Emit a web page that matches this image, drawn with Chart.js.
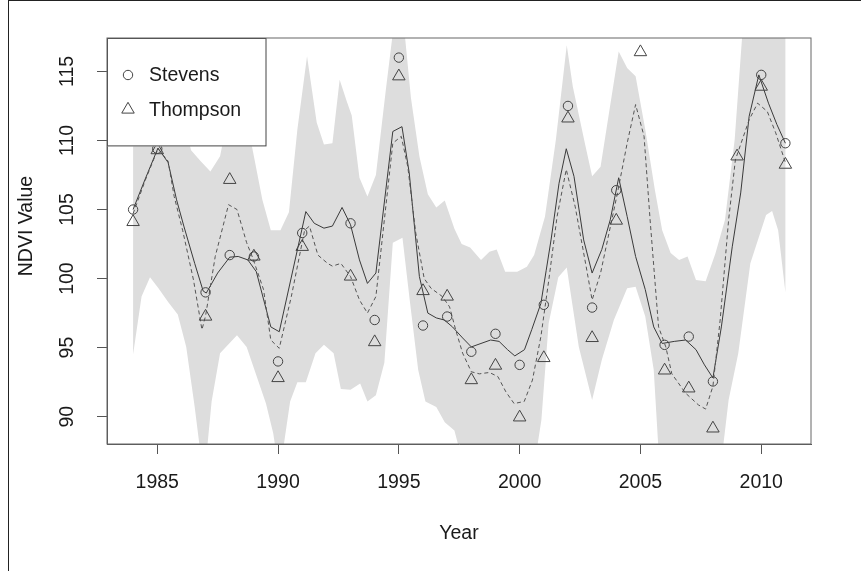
<!DOCTYPE html>
<html lang="en">
<head>
<meta charset="UTF-8">
<title>NDVI Value by Year</title>
<script src="https://cdn.jsdelivr.net/npm/chart.js"></script>
<style>
    body { margin: 0; background: #fff; }
    #wrap { position: relative; width: 861px; height: 571px; }
    #frame { position: absolute; left: 8px; top: 0; right: 0; bottom: 0; border-left: 1px solid #222; border-top: 1px solid #222; pointer-events: none; }
</style>
</head>
<body>
<div id="wrap">
    <canvas id="myChart"></canvas>
    <div id="frame"></div>
</div>
<script>
    // yearly observations
    const years = [1984, 1985, 1986, 1987, 1988, 1989, 1990, 1991, 1992, 1993, 1994, 1995, 1996, 1997,
                   1998, 1999, 2000, 2001, 2002, 2003, 2004, 2005, 2006, 2007, 2008, 2009, 2010, 2011];
    const stevens = [105.0, 109.4, null, 99.0, 101.7, 101.6, 94.0, 103.3, null, 104.0, 97.0, 116.0, 96.6, 97.25,
                     94.7, 96.0, 93.75, 98.1, 112.5, 97.9, 106.4, null, 95.2, 95.8, 92.55, null, 114.75, 109.8];
    const thompson = [104.1, 109.3, null, 97.25, 107.15, 101.6, 92.8, 102.3, null, 100.15, 95.4, 114.65, 99.1, 98.7,
                      92.65, 93.7, 89.95, 94.25, 111.6, 95.7, 104.2, 116.4, 93.35, 92.05, 89.15, 108.85, 113.9, 108.25];

    // smoothed Stevens (solid)
    const solidX = [1984.0, 1984.5, 1985.03, 1985.45, 1985.8, 1986.1, 1986.55, 1986.9, 1987.03, 1987.5, 1988.0, 1988.35,
                    1988.75, 1989.1, 1989.7, 1990.05, 1991.15, 1991.5, 1991.9, 1992.25, 1992.65, 1993.0, 1993.37, 1993.7,
                    1994.05, 1994.75, 1995.13, 1995.43, 1995.85, 1996.2, 1996.55, 1996.88, 1997.22, 1997.64, 1998.0,
                    1998.4, 1998.8, 1999.15, 1999.5, 1999.8, 2000.2, 2000.5, 2000.88, 2001.1, 2001.3, 2001.63, 2001.93,
                    2002.25, 2002.65, 2003.0, 2003.4, 2003.75, 2004.1, 2004.45, 2004.8, 2005.2, 2005.55, 2005.9, 2006.4,
                    2006.87, 2007.3, 2007.65, 2008.0, 2008.35, 2008.8, 2009.15, 2009.5, 2009.9, 2010.3, 2010.65, 2011.0];
    const solidY = [105.0, 107.2, 109.45, 108.4, 105.7, 103.8, 101.1, 99.1, 98.95, 100.4, 101.55, 101.6,
                    101.35, 100.5, 96.5, 96.15, 104.85, 104.0, 103.65, 103.8, 105.15, 103.9, 101.35, 99.65,
                    100.4, 110.65, 111.0, 107.65, 100.15, 97.5, 97.15, 97.0, 96.5, 95.7, 95.05,
                    95.3, 95.55, 95.45, 94.85, 94.4, 94.85, 96.3, 98.2, 100.6, 102.8, 106.9, 109.4,
                    107.4, 102.8, 100.4, 102.1, 104.25, 107.3, 104.5, 101.6, 99.2, 96.5, 95.3, 95.45,
                    95.55, 94.85, 93.75, 92.8, 96.5, 102.3, 106.2, 111.75, 114.75, 112.7, 111.15, 109.8];

    // smoothed Thompson (dashed)
    const dashX = [1984.0, 1984.5, 1985.03, 1985.45, 1985.7, 1986.05, 1986.5, 1986.85, 1987.0, 1987.4, 1987.95, 1988.3,
                   1988.7, 1988.95, 1989.4, 1989.7, 1990.05, 1990.55, 1991.1, 1991.3, 1991.65, 1992.05, 1992.25, 1992.6,
                   1993.0, 1993.37, 1993.7, 1994.05, 1994.75, 1995.1, 1995.37, 1995.7, 1996.05, 1996.33, 1996.8, 1997.1,
                   1997.35, 1997.64, 1998.0, 1998.33, 1998.75, 1999.1, 1999.43, 1999.77, 2000.19, 2000.53, 2000.88,
                   2001.2, 2001.55, 2001.93, 2002.3, 2002.75, 2003.0, 2003.35, 2003.7, 2004.05, 2004.45, 2004.8,
                   2005.15, 2005.4, 2005.75, 2006.05, 2006.3, 2006.87, 2007.4, 2007.7, 2008.0, 2008.3, 2008.65,
                   2008.93, 2009.5, 2009.85, 2010.25, 2010.6, 2011.0];
    const dashY = [104.7, 107.1, 109.4, 108.5, 105.95, 103.5, 99.9, 96.3, 97.3, 101.6, 105.35, 105.0,
                   102.6, 101.5, 99.2, 95.55, 94.95, 98.7, 103.5, 103.8, 101.7, 101.1, 100.9, 101.1,
                   100.15, 98.45, 97.5, 98.7, 109.8, 110.3, 108.1, 103.3, 100.0, 99.3, 98.7, 97.95,
                   96.3, 94.6, 93.25, 93.1, 93.2, 92.9, 91.8, 90.95, 91.1, 92.65, 95.8,
                   99.8, 104.5, 107.9, 105.2, 100.9, 98.45, 100.4, 103.3, 106.2, 109.8, 112.6,
                   110.3, 104.25, 96.5, 95.05, 93.1, 91.7, 90.85, 90.55, 92.2, 97.0, 104.25,
                   108.6, 111.5, 112.7, 112.1, 110.55, 108.4];

    // grey band, upper and lower edges
    const bandUpX = [1984.0, 1984.5, 1985.0, 1985.5, 1986.0, 1986.4, 1986.8, 1987.2, 1987.6, 1987.9, 1988.3, 1988.7,
                     1989.0, 1989.35, 1989.7, 1990.1, 1990.45, 1990.8, 1991.2, 1991.6, 1991.9, 1992.25, 1992.55,
                     1992.85, 1993.05, 1993.37, 1993.7, 1994.05, 1994.45, 1994.8, 1995.2, 1995.5, 1995.85, 1996.2,
                     1996.55, 1996.9, 1997.3, 1997.6, 1997.95, 1998.4, 1998.75, 1999.05, 1999.4, 1999.9, 2000.3,
                     2000.6, 2001.05, 2001.5, 2001.95, 2002.2, 2002.7, 2003.0, 2003.35, 2003.7, 2004.1, 2004.45,
                     2004.8, 2005.2, 2005.6, 2005.9, 2006.25, 2006.6, 2006.95, 2007.3, 2007.7, 2008.1, 2008.5,
                     2008.9, 2009.25, 2010.0, 2011.0];
    const bandUpY = [113.0, 117.0, 118.0, 116.0, 112.0, 109.3, 108.5, 107.75, 108.85, 111.5, 112.5, 111.5,
                     108.85, 105.7, 103.5, 103.5, 104.8, 110.8, 116.1, 111.3, 109.7, 109.8, 114.4,
                     112.8, 111.8, 107.3, 105.95, 107.5, 113.5, 118.5, 118.5, 113.1, 108.85, 106.1,
                     105.15, 105.65, 103.6, 102.5, 102.25, 101.35, 101.95, 102.1, 100.5, 100.5, 100.85,
                     101.7, 104.5, 110.05, 116.9, 113.9, 109.8, 107.4, 108.1, 112.0, 116.45, 115.25,
                     114.65, 110.8, 106.4, 103.5, 101.85, 101.35, 101.6, 99.9, 99.8, 101.8, 104.25,
                     110.05, 118.5, 119.0, 119.0];
    const bandLowX = [1984.0, 1984.35, 1984.7, 1985.05, 1985.45, 1985.85, 1986.2, 1986.55, 1986.85, 1987.0, 1987.25,
                      1987.6, 1988.3, 1988.7, 1989.1, 1989.5, 1989.8, 1990.0, 1990.2, 1990.5, 1990.8, 1991.15,
                      1991.55, 1991.9, 1992.3, 1992.6, 1993.0, 1993.4, 1993.7, 1994.05, 1994.4, 1994.75, 1995.15,
                      1995.45, 1995.8, 1996.1, 1996.55, 1996.9, 1997.3, 1997.6, 1998.0, 2000.0, 2000.7, 2000.9,
                      2001.2, 2001.6, 2001.95, 2002.45, 2003.0, 2003.4, 2003.9, 2004.45, 2004.8, 2005.2, 2005.55,
                      2005.75, 2006.5, 2007.5, 2008.4, 2008.65, 2009.05, 2009.55, 2009.9, 2010.2, 2010.45, 2010.7,
                      2011.0];
    const bandLowY = [94.5, 98.7, 100.1, 99.3, 98.3, 97.4, 95.05, 90.7, 86.5, 86.5, 91.1,
                      94.6, 95.9, 95.05, 93.0, 90.95, 88.8, 86.5, 87.5, 91.1, 92.5, 92.5,
                      94.6, 95.2, 94.6, 92.0, 91.95, 92.4, 91.1, 91.55, 93.9, 102.6, 102.95,
                      98.45, 93.4, 91.1, 90.7, 89.6, 89.0, 87.0, 85.0, 85.0, 87.5, 89.75,
                      96.75, 100.1, 100.8, 95.05, 91.2, 94.1, 97.0, 99.3, 99.4, 97.25, 93.4,
                      87.5, 84.0, 84.0, 87.5, 91.2, 94.6, 101.1, 103.0, 104.6, 104.9, 103.5,
                      99.0];

    const xTicks = [1985, 1990, 1995, 2000, 2005, 2010];
    const yTicks = [90, 95, 100, 105, 110, 115];

    const font = '19.5px "Liberation Sans", Arial, sans-serif';
    const ink = '#1a1a1a';
    const pointInk = '#444';

    function pairs(xs, ys) {
        const out = [];
        xs.forEach((x, i) => { if (ys[i] !== null) out.push({ x: x, y: ys[i] }); });
        return out;
    }

    const bandShape = pairs(bandUpX, bandUpY).concat(pairs(bandLowX, bandLowY).reverse());

    const rPlot = {
        id: 'rPlot',
        afterDatasetsDraw(chart) {
            const ctx = chart.ctx;
            const a = chart.chartArea;
            const xs = chart.scales.x, ys = chart.scales.y;
            ctx.save();
            // legend box
            const lx = a.left, ly = a.top, lw = 159.5, lh = 108.4;
            ctx.fillStyle = '#fff';
            ctx.fillRect(lx, ly, lw, lh);
            ctx.strokeStyle = '#444';
            ctx.lineWidth = 1;
            ctx.strokeRect(lx + 0.5, ly + 0.5, lw - 1, lh - 1);
            ctx.strokeStyle = pointInk;
            ctx.beginPath();
            ctx.arc(lx + 21, ly + 37, 4.7, 0, Math.PI * 2);
            ctx.stroke();
            const tr = 7.2, tcx = lx + 21, tcy = ly + 71.5;
            ctx.beginPath();
            for (let k = 0; k < 3; k++) {
                const ang = k * 2 * Math.PI / 3;
                const px = tcx + Math.sin(ang) * tr, py = tcy - Math.cos(ang) * tr;
                if (k === 0) ctx.moveTo(px, py); else ctx.lineTo(px, py);
            }
            ctx.closePath();
            ctx.stroke();
            ctx.fillStyle = ink;
            ctx.font = font;
            ctx.textAlign = 'left';
            ctx.textBaseline = 'middle';
            ctx.fillText('Stevens', lx + 42, ly + 38);
            ctx.fillText('Thompson', lx + 42, ly + 73);
            // plot frame
            ctx.strokeStyle = '#666';
            ctx.strokeRect(a.left, a.top, a.right - a.left, a.bottom - a.top);
            // tick labels
            ctx.textAlign = 'center';
            xTicks.forEach(v => ctx.fillText(String(v), xs.getPixelForValue(v), a.bottom + 39));
            yTicks.forEach(v => {
                ctx.save();
                ctx.translate(a.left - 39, ys.getPixelForValue(v));
                ctx.rotate(-Math.PI / 2);
                ctx.fillText(String(v), 0, 0);
                ctx.restore();
            });
            // axis titles
            ctx.fillText('Year', (a.left + a.right) / 2, a.bottom + 90);
            ctx.save();
            ctx.translate(a.left - 80, 226);
            ctx.rotate(-Math.PI / 2);
            ctx.fillText('NDVI Value', 0, 0);
            ctx.restore();
            ctx.restore();
        }
    };

    const ctx = document.getElementById('myChart').getContext('2d');
    const myChart = new Chart(ctx, {
        type: 'scatter',
        data: {
            datasets: [
                {
                    label: 'band',
                    data: bandShape,
                    order: 10,
                    showLine: true,
                    fill: 'shape',
                    backgroundColor: '#dddddd',
                    borderColor: 'rgba(0,0,0,0)',
                    borderWidth: 0,
                    pointRadius: 0
                },
                {
                    label: 'Stevens fit',
                    data: pairs(solidX, solidY),
                    order: 4,
                    showLine: true,
                    borderColor: '#3a3a3a',
                    borderWidth: 1,
                    pointRadius: 0
                },
                {
                    label: 'Thompson fit',
                    data: pairs(dashX, dashY),
                    order: 3,
                    showLine: true,
                    borderColor: '#555',
                    borderWidth: 1,
                    borderDash: [4, 3],
                    pointRadius: 0
                },
                {
                    label: 'Stevens',
                    data: pairs(years, stevens),
                    order: 2,
                    pointStyle: 'circle',
                    pointRadius: 4.7,
                    backgroundColor: 'rgba(0,0,0,0)',
                    borderColor: pointInk,
                    borderWidth: 1
                },
                {
                    label: 'Thompson',
                    data: pairs(years, thompson),
                    order: 1,
                    pointStyle: 'triangle',
                    pointRadius: 7.2,
                    backgroundColor: 'rgba(0,0,0,0)',
                    borderColor: pointInk,
                    borderWidth: 1
                }
            ]
        },
        options: {
            responsive: true,
            maintainAspectRatio: false,
            animation: false,
            events: [],
            layout: { padding: { left: 97, right: 50, top: 38, bottom: 117 } },
            plugins: { legend: { display: false }, tooltip: { enabled: false } },
            scales: {
                x: {
                    type: 'linear',
                    min: 1982.92,
                    max: 2012.06,
                    afterBuildTicks: axis => { axis.ticks = xTicks.map(v => ({ value: v })); },
                    ticks: { display: false },
                    grid: { drawOnChartArea: false, drawTicks: true, tickLength: 10, color: '#555' },
                    border: { display: true, color: '#555' }
                },
                y: {
                    type: 'linear',
                    min: 88.02,
                    max: 117.42,
                    afterBuildTicks: axis => { axis.ticks = yTicks.map(v => ({ value: v })); },
                    ticks: { display: false },
                    grid: { drawOnChartArea: false, drawTicks: true, tickLength: 10, color: '#555' },
                    border: { display: true, color: '#555' }
                }
            }
        },
        plugins: [rPlot]
    });
</script>
</body>
</html>
